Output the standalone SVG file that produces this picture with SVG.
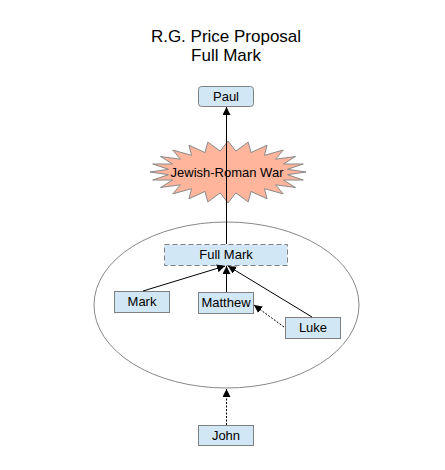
<svg xmlns="http://www.w3.org/2000/svg" width="445" height="470" viewBox="0 0 445 470">
<style>
text{font-family:"Liberation Sans",Arial,sans-serif;fill:#000;text-anchor:middle}
.title{font-size:17px}
.lbl{font-size:13px}
.box{fill:#D2E7F5;stroke:#808080;stroke-width:1}
.edge{stroke:#000;stroke-width:1;fill:none}
.dot{stroke-dasharray:2,1.5}
</style>
<defs>
<marker id="ah" viewBox="0 0 10 10" refX="10" refY="5" markerWidth="8" markerHeight="8" markerUnits="userSpaceOnUse" orient="auto">
<path d="M0,0 L10,5 L0,10 z" fill="#000"/>
</marker>
</defs>
<rect width="445" height="470" fill="#fff"/>
<g id="title">
<text class="title" x="226" y="42">R.G. Price Proposal</text>
<text class="title" x="226" y="61">Full Mark</text>
</g>
<g id="group-ellipse">
<ellipse cx="226.5" cy="305" rx="132.5" ry="83" fill="none" stroke="#888" stroke-width="1"/>
</g>
<g id="war">
<polygon fill="#FFB59C" stroke="#8a8a8a" stroke-width="1" points="306,172 287.5,174.7 303.3,180 283.4,180 295.5,187.5 275.6,184.8 283.2,193.9 264.5,188.7 267,198.8 251,191.4 248.2,201.9 235.8,192.8 228,203 220.2,192.8 207.8,201.9 205,191.4 189,198.8 191.5,188.7 172.8,193.9 180.4,184.8 160.5,187.5 172.6,180 152.7,180 168.5,174.7 150,172 168.5,169.3 152.7,164 172.6,164 160.5,156.5 180.4,159.2 172.8,150.1 191.5,155.3 189,145.2 205,152.6 207.8,142.1 220.2,151.2 228,141 235.8,151.2 248.2,142.1 251,152.6 267,145.2 264.5,155.3 283.2,150.1 275.6,159.2 295.5,156.5 283.4,164 303.3,164 287.5,169.3"/>
<text class="lbl" x="227" y="177">Jewish-Roman War</text>
</g>
<g id="paul">
<rect class="box" x="198.5" y="86.5" width="55" height="20" rx="3"/>
<text class="lbl" x="226" y="101">Paul</text>
</g>
<g id="fullmark">
<rect class="box" x="164.5" y="244.5" width="123" height="21" stroke-dasharray="5,3"/>
<text class="lbl" x="226" y="259">Full Mark</text>
</g>
<g id="mark">
<rect class="box" x="114.5" y="291.5" width="55" height="21"/>
<text class="lbl" x="142" y="306">Mark</text>
</g>
<g id="matthew">
<rect class="box" x="198.5" y="292.5" width="55" height="21"/>
<text class="lbl" x="226" y="307">Matthew</text>
</g>
<g id="luke">
<rect class="box" x="285.5" y="317.5" width="55" height="21"/>
<text class="lbl" x="313" y="332">Luke</text>
</g>
<g id="john">
<rect class="box" x="198.5" y="425.5" width="55" height="20"/>
<text class="lbl" x="226" y="440">John</text>
</g>
<g id="connectors">
<line class="edge" x1="226.5" y1="244" x2="226.5" y2="107" marker-end="url(#ah)"/>
<line class="edge" x1="143" y1="291" x2="225" y2="266" marker-end="url(#ah)"/>
<line class="edge" x1="226.5" y1="292" x2="226.5" y2="266" marker-end="url(#ah)"/>
<line class="edge" x1="312" y1="317" x2="228" y2="266" marker-end="url(#ah)"/>
<line class="edge dot" x1="284" y1="327" x2="254" y2="305" marker-end="url(#ah)"/>
<line class="edge dot" x1="226.5" y1="425" x2="226.5" y2="389" marker-end="url(#ah)"/>
</g>
</svg>
